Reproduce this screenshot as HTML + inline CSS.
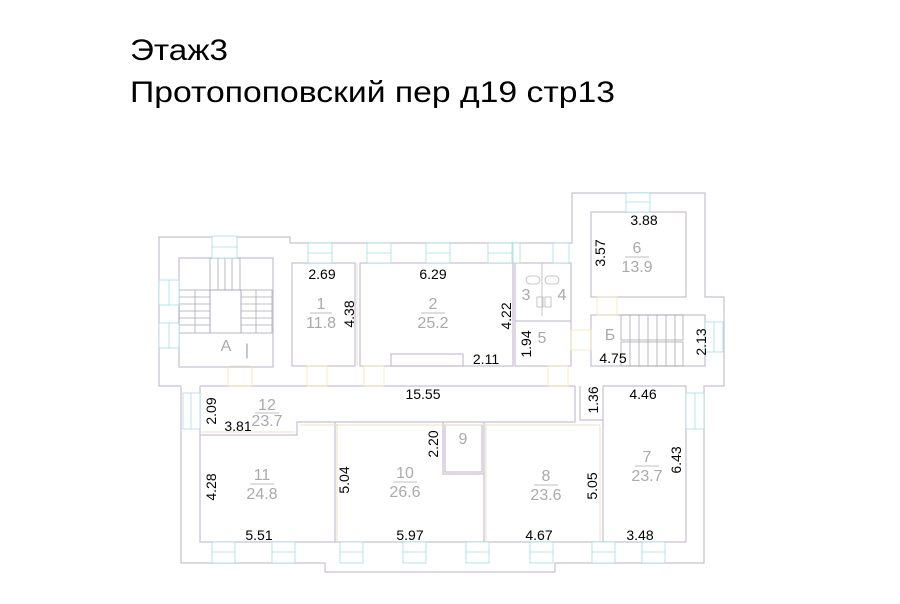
<!DOCTYPE html>
<html><head><meta charset="utf-8"><style>
body{margin:0;background:#fff;width:900px;height:604px;overflow:hidden}
svg{position:absolute;left:0;top:0}
.t{font-family:"Liberation Sans",sans-serif}
</style></head><body>
<svg width="900" height="604" viewBox="0 0 900 604" xmlns="http://www.w3.org/2000/svg">
<text x="130" y="60" class="t" font-size="30" fill="#000" textLength="98" lengthAdjust="spacingAndGlyphs">Этаж3</text>
<text x="130" y="102" class="t" font-size="30" fill="#000" textLength="485" lengthAdjust="spacingAndGlyphs">Протопоповский пер д19 стр13</text>

<g fill="none" stroke="#c9bfd3" stroke-width="1.2">
<polyline points="181,386 159,386 159,237 290,237 290,243 572,243 572,193 705,193 705,297 724,297 724,386 704,386 704,563 555,563 555,572 325,572 325,563 181,563 181,386"/>
<rect x="179" y="258" width="94" height="109"/>
<rect x="292" y="263" width="63" height="103"/>
<rect x="360" y="263" width="153" height="103"/>
<rect x="515" y="263" width="56" height="103"/>
<line x1="515" y1="321" x2="571" y2="321"/>
<rect x="391" y="354" width="72" height="12"/>
<rect x="591" y="212" width="95" height="85"/>
<rect x="591" y="315" width="114" height="51"/>
<polyline points="200,386 200,542 686,542 686,386 603,386"/>
<polyline points="200,435 297,435 297,422 575,422 575,386"/>
<line x1="200" y1="386" x2="575" y2="386"/>
<line x1="335" y1="422" x2="335" y2="542"/>
<polyline points="443,422 443,474 484,474"/>
<rect x="445" y="425" width="37" height="47"/>
<line x1="484" y1="422" x2="484" y2="542"/>
<polyline points="580,386 580,420 603,420 603,542"/>
<line x1="603" y1="386" x2="603" y2="420"/>
</g>
<g fill="none" stroke="#e8e2c8" stroke-width="1">
<line x1="357" y1="263" x2="357" y2="366"/>
<line x1="337" y1="424" x2="337" y2="542"/>
<line x1="486" y1="424" x2="486" y2="542"/>
<line x1="200" y1="432" x2="295" y2="432"/>
<line x1="300" y1="425" x2="600" y2="425"/>
<line x1="600" y1="425" x2="600" y2="542"/>
</g>
<g fill="none" stroke="#a8a8b4" stroke-width="0.8">
<rect x="210" y="258" width="30" height="32"/>
<line x1="218" y1="258" x2="218" y2="290"/><line x1="225" y1="258" x2="225" y2="290"/><line x1="232" y1="258" x2="232" y2="290"/>
<rect x="179" y="290" width="31" height="43"/><rect x="241" y="290" width="31" height="43"/>
<rect x="210" y="290" width="31" height="43"/>
<line x1="195" y1="290" x2="195" y2="333"/><line x1="256" y1="290" x2="256" y2="333"/>
<line x1="179" y1="297" x2="210" y2="297"/><line x1="179" y1="304" x2="210" y2="304"/><line x1="179" y1="311" x2="210" y2="311"/><line x1="179" y1="318" x2="210" y2="318"/><line x1="179" y1="325" x2="210" y2="325"/>
<line x1="241" y1="297" x2="272" y2="297"/><line x1="241" y1="304" x2="272" y2="304"/><line x1="241" y1="311" x2="272" y2="311"/><line x1="241" y1="318" x2="272" y2="318"/><line x1="241" y1="325" x2="272" y2="325"/>
<rect x="621" y="315" width="62" height="25"/><rect x="621" y="342" width="62" height="24"/>
<line x1="630" y1="315" x2="630" y2="366"/><line x1="639" y1="315" x2="639" y2="366"/><line x1="648" y1="315" x2="648" y2="366"/><line x1="657" y1="315" x2="657" y2="366"/><line x1="666" y1="315" x2="666" y2="366"/><line x1="675" y1="315" x2="675" y2="366"/>
</g>
<g fill="#fff" stroke="#a9dcdc" stroke-width="0.8">
<rect x="212" y="236" width="25" height="22"/><rect x="308" y="243" width="24" height="20"/><rect x="367" y="243" width="24" height="20"/><rect x="426" y="243" width="24" height="20"/><rect x="488" y="243" width="24" height="20"/><rect x="513" y="243" width="7" height="20"/>
<rect x="553" y="243" width="16" height="20"/><rect x="626" y="193" width="24" height="19"/>
<rect x="159" y="280" width="20" height="25"/><rect x="159" y="323" width="20" height="25"/>
<rect x="705" y="322" width="18" height="30"/><rect x="183" y="393" width="17" height="36"/><rect x="686" y="393" width="18" height="36"/>
<rect x="212" y="542" width="23" height="21"/><rect x="272" y="542" width="23" height="21"/><rect x="340" y="542" width="23" height="21"/><rect x="403" y="542" width="23" height="21"/><rect x="466" y="542" width="23" height="21"/><rect x="530" y="542" width="23" height="21"/><rect x="592" y="542" width="23" height="21"/><rect x="642" y="542" width="23" height="21"/>
</g>
<g stroke="#a9dcdc" stroke-width="0.8">
<line x1="212" y1="247" x2="237" y2="247"/><line x1="308" y1="253" x2="332" y2="253"/><line x1="367" y1="253" x2="391" y2="253"/><line x1="426" y1="253" x2="450" y2="253"/><line x1="488" y1="253" x2="512" y2="253"/><line x1="626" y1="202" x2="650" y2="202"/>
<line x1="169" y1="280" x2="169" y2="305"/><line x1="169" y1="323" x2="169" y2="348"/><line x1="714" y1="322" x2="714" y2="352"/><line x1="191" y1="393" x2="191" y2="429"/><line x1="695" y1="393" x2="695" y2="429"/>
<line x1="212" y1="552" x2="235" y2="552"/><line x1="272" y1="552" x2="295" y2="552"/><line x1="340" y1="552" x2="363" y2="552"/><line x1="403" y1="552" x2="426" y2="552"/><line x1="466" y1="552" x2="489" y2="552"/><line x1="530" y1="552" x2="553" y2="552"/><line x1="592" y1="552" x2="615" y2="552"/><line x1="642" y1="552" x2="665" y2="552"/>
</g>
<g fill="none" stroke="#f0ecb0" stroke-width="0.8">
<rect x="228" y="366" width="24" height="20"/><rect x="307" y="366" width="20" height="20"/><rect x="364" y="366" width="20" height="20"/><rect x="548" y="366" width="20" height="20"/><rect x="571" y="330" width="20" height="20"/><rect x="597" y="297" width="20" height="18"/>
</g>
<g fill="none" stroke="#b8b8b8" stroke-width="0.8">
<rect x="526" y="276" width="14" height="8" rx="4"/><rect x="545" y="276" width="14" height="8" rx="4"/>
<rect x="537" y="297" width="6" height="10"/><rect x="545" y="297" width="6" height="10"/>
<line x1="542" y1="263" x2="542" y2="316"/>
</g>
<g class="t" fill="#aaa" font-size="16" text-anchor="middle">
<text x="321" y="309">1</text><text x="321" y="328">11.8</text>
<text x="433" y="309">2</text><text x="433" y="328">25.2</text>
<text x="526" y="300">3</text><text x="562" y="300">4</text><text x="542" y="343">5</text>
<text x="637" y="253">6</text><text x="637" y="272">13.9</text>
<text x="610" y="340">Б</text><text x="226" y="351">А</text><text x="247" y="355">|</text>
<text x="267" y="410">12</text><text x="267" y="426">23.7</text>
<text x="262" y="480">11</text><text x="262" y="499">24.8</text>
<text x="405" y="478">10</text><text x="405" y="497">26.6</text>
<text x="463" y="444">9</text>
<text x="546" y="481">8</text><text x="546" y="500">23.6</text>
<text x="647" y="462">7</text><text x="647" y="481">23.7</text>
</g>
<g stroke="#aaa" stroke-width="0.8">
<line x1="310" y1="313" x2="332" y2="313"/><line x1="421" y1="313" x2="445" y2="313"/><line x1="625" y1="257" x2="649" y2="257"/><line x1="255" y1="413" x2="279" y2="413"/><line x1="250" y1="484" x2="274" y2="484"/><line x1="393" y1="482" x2="417" y2="482"/><line x1="534" y1="485" x2="558" y2="485"/><line x1="635" y1="466" x2="659" y2="466"/>
</g>
<g class="t" fill="#000" font-size="14" text-anchor="middle">
<text x="322" y="279">2.69</text><text x="433" y="279">6.29</text><text x="486" y="364">2.11</text>
<text x="644" y="225">3.88</text><text x="613" y="363">4.75</text><text x="423" y="399">15.55</text>
<text x="643" y="399">4.46</text><text x="238" y="431">3.81</text>
<text x="259" y="540">5.51</text><text x="410" y="540">5.97</text><text x="539" y="540">4.67</text><text x="640" y="540">3.48</text>
<g transform="rotate(-90)">
<text x="-314" y="354">4.38</text><text x="-316" y="511">4.22</text><text x="-344" y="531">1.94</text>
<text x="-253" y="605">3.57</text><text x="-342" y="706">2.13</text><text x="-400" y="598">1.36</text>
<text x="-411" y="216">2.09</text><text x="-487" y="216">4.28</text><text x="-480" y="349">5.04</text>
<text x="-444" y="438">2.20</text><text x="-486" y="597">5.05</text><text x="-460" y="681">6.43</text>
</g>
</g>
</svg>
</body></html>
